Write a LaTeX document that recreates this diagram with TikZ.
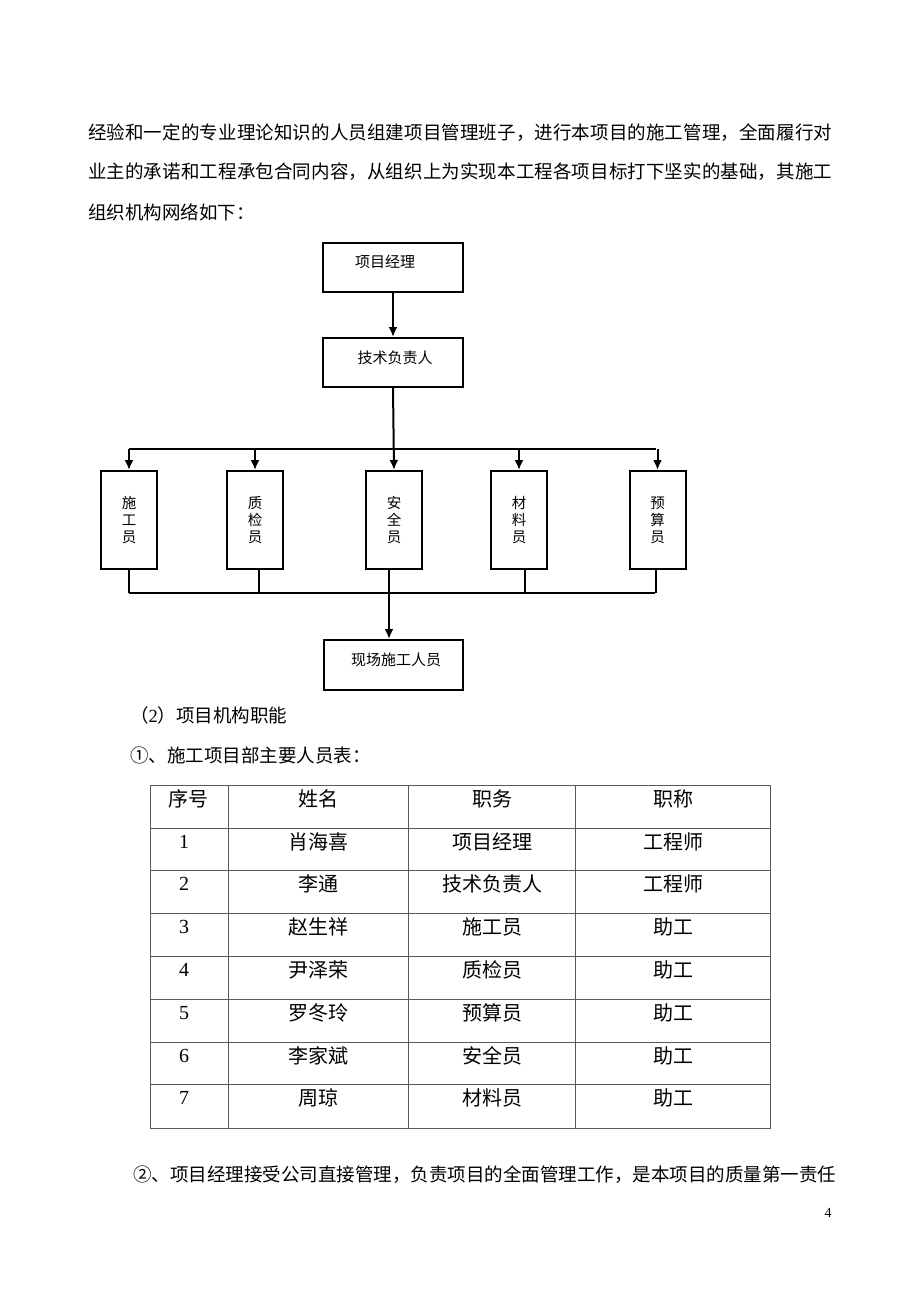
\documentclass[tikz,border=0pt]{standalone}
\usepackage{fontspec}
\setmainfont{Noto Sans CJK SC}
\newfontfamily\digitfont{Liberation Serif}
\usetikzlibrary{arrows.meta}
\def\spreadtext#1#2{\hbox to #1{\spreadfirst#2\relax}}
\def\spreadfirst#1{#1\spreadrest}
\def\spreadrest#1{\ifx#1\relax\else\hfil#1\expandafter\spreadrest\fi}
\tikzset{
  boxnode/.style={draw=black, line width=2pt, inner sep=0pt},
  lbl/.style={inner sep=0pt, font=\fontsize{15}{17}\selectfont},
  vlbl/.style={inner sep=0pt, align=center, font=\fontsize{14.5}{17}\selectfont},
  conn/.style={line width=2pt, draw=black},
  arr/.style={conn, -{Latex[length=10pt,width=9pt]}},
  body/.style={inner sep=0pt, anchor=west, font=\fontsize{18.5}{20}\selectfont},
  cell/.style={inner sep=0pt, font=\fontsize{20}{22}\selectfont},
  grid/.style={draw=black!65, line width=1pt}
}
\begin{document}
\begin{tikzpicture}[x=1pt,y=-1pt]
\useasboundingbox (0,0) rectangle (920,1302);
\fill[white] (0,0) rectangle (920,1302);
% body text
\node[body] (t1) at (88,133) {\spreadtext{744pt}{经验和一定的专业理论知识的人员组建项目管理班子，进行本项目的施工管理，全面履行对}};
\node[body] (t2) at (88,172) {\spreadtext{744pt}{业主的承诺和工程承包合同内容，从组织上为实现本工程各项目标打下坚实的基础，其施工}};
\node[body] (t3) at (88,212) {组织机构网络如下：};
% org chart
\node[boxnode, minimum width=140pt, minimum height=49pt] (pm) at (393,267.5) {};
\node[lbl] (pmt) at (385,262) {项目经理};
\node[boxnode, minimum width=140pt, minimum height=49pt] (tl) at (393,362.5) {};
\node[lbl] (tlt) at (395,358) {技术负责人};
\foreach \n/\x/\t in {s1/129/{施\\工\\员}, s2/255/{质\\检\\员}, s3/394/{安\\全\\员}, s4/519/{材\\料\\员}, s5/657.5/{预\\算\\员}}{
  \node[boxnode, minimum width=56pt, minimum height=98pt] (\n) at (\x,520) {};
  \node[vlbl] (\n t) at (\x,520) {\t};
}
\node[boxnode, minimum width=139pt, minimum height=50pt] (site) at (393.5,665) {};
\node[lbl] (sitet) at (396,660) {现场施工人员};
\coordinate (barL) at (129,449);
\coordinate (barR) at (656,449);
\coordinate (lowL) at (129,593);
\coordinate (lowR) at (655,593);
\coordinate (drop) at (389,593);
\draw[arr] (pm) -- (tl);
\draw[conn] (barL) -- (barR);
\draw[arr] (tl.south) -- (s3.north);
\foreach \n in {s1,s2,s4,s5}{
  \draw[arr] (\n.north |- barL) -- (\n.north);
}
\draw[conn] (lowL) -- (lowR);
\draw[conn] (s1.south) -- (s1.south |- lowL);
\draw[conn] ([xshift=4pt]s2.south) -- ([xshift=4pt]s2.south |- lowL);
\draw[conn] ([xshift=-5pt]s3.south) -- (drop);
\draw[conn] ([xshift=6pt]s4.south) -- ([xshift=6pt]s4.south |- lowL);
\draw[conn] ([xshift=-2pt]s5.south) -- ([xshift=-2pt]s5.south |- lowL);
\draw[arr] (drop) -- (drop |- site.north);
% section text
\node[body] (h2) at (130,715) {（{\digitfont 2}）项目机构职能};
\node[body] (h3) at (130,755) {①、施工项目部主要人员表：};
% table
\draw[grid] (150,785) rectangle (770,1128);
\foreach \y in {828,870,913,956,999,1042,1084}{ \draw[grid] (150,\y) -- (770,\y); }
\foreach \x in {228,408,575}{ \draw[grid] (\x,785) -- (\x,1128); }
\node[cell] (h-1) at (188,799) {序号};
\node[cell] (h-2) at (318,799) {姓名};
\node[cell] (h-3) at (492,799) {职务};
\node[cell] (h-4) at (673,799) {职称};
\foreach \i/\y/\a/\b/\c in {1/842/肖海喜/项目经理/工程师, 2/884/李通/技术负责人/工程师, 3/927/赵生祥/施工员/助工, 4/970/尹泽荣/质检员/助工, 5/1013/罗冬玲/预算员/助工, 6/1056/李家斌/安全员/助工, 7/1098/周琼/材料员/助工}{
  \node[cell, font=\fontsize{20}{22}\digitfont] (r\i-1) at (184,\y) {\i};
  \node[cell] (r\i-2) at (318,\y) {\a};
  \node[cell] (r\i-3) at (492,\y) {\b};
  \node[cell] (r\i-4) at (673,\y) {\c};
}
\node[body] (t4) at (133,1175) {\spreadtext{699pt}{②、项目经理接受公司直接管理，负责项目的全面管理工作，是本项目的质量第一责任}};
\node[inner sep=0pt, font=\fontsize{14}{16}\digitfont] (pg) at (828,1213) {4};
\end{tikzpicture}
\end{document}
